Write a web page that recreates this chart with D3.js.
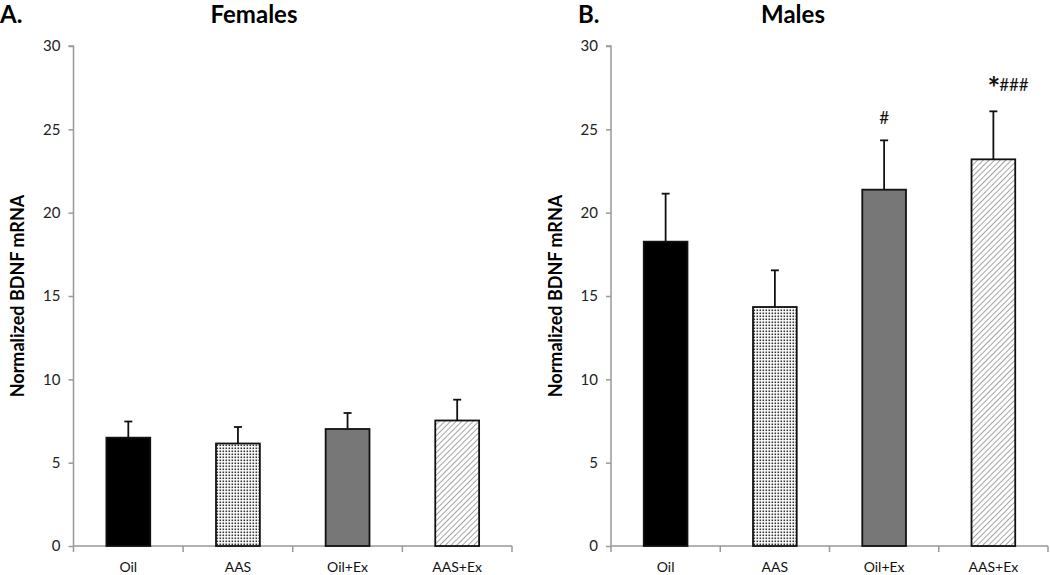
<!DOCTYPE html>
<html><head><meta charset="utf-8">
<script src="https://cdn.jsdelivr.net/npm/d3@7"></script>
<style>body{margin:0;background:#fff}svg{display:block}text{font-family:Lato,"Open Sans",sans-serif}</style>
</head><body>
<svg id="c" width="1050" height="575"></svg>
<script>
const categories = ["Oil","AAS","Oil+Ex","AAS+Ex"];
const femaleMeans = [6.5, 6.15, 7.02, 7.53];
const femaleErr = [0.97, 0.99, 0.96, 1.25];
const maleMeans = [18.26, 14.34, 21.38, 23.2];
const maleErr = [2.88, 2.2, 2.96, 2.88];
const maleMarks = ["", "", "#", "###"];
const maleStars = ["", "", "", "*"];
const yTicks = [0,5,10,15,20,25,30];
const panelTitles = ["Females","Males"];
const panelLetters = ["A.","B."];
const yLabel = "Normalized BDNF mRNA";

const svg = d3.select("#c");
const defs = svg.append("defs");
const dots = defs.append("pattern").attr("id","dots").attr("patternUnits","userSpaceOnUse").attr("width",3).attr("height",3);
dots.append("rect").attr("width",3).attr("height",3).attr("fill","#fff");
dots.append("rect").attr("x",0.5).attr("y",0.5).attr("width",1.6).attr("height",1.6).attr("fill","#333");
const hatch = defs.append("pattern").attr("id","hatch").attr("patternUnits","userSpaceOnUse").attr("width",4).attr("height",4).attr("patternTransform","rotate(45)");
hatch.append("rect").attr("width",4).attr("height",4).attr("fill","#fff");
hatch.append("line").attr("x1",0).attr("y1",0).attr("x2",0).attr("y2",4).attr("stroke","#666").attr("stroke-width",1.2);
const fills = ["#000","url(#dots)","#777","url(#hatch)"];

const panels = [
  {x0:73.5, x1:512, means:femaleMeans, errs:femaleErr, marks:null, stars:null, titleX:254, letterX:0, labelX:18},
  {x0:611, x1:1048, means:maleMeans, errs:maleErr, marks:maleMarks, stars:maleStars, titleX:793, letterX:578, labelX:556}
];
const y = d3.scaleLinear().domain([0,30]).range([546,46]);

panels.forEach((p,pi)=>{
  const g = svg.append("g");
  const x = d3.scaleBand().domain(categories).range([p.x0,p.x1]).paddingInner(0).paddingOuter(0);
  const bw = x.bandwidth()*0.4;
  // y axis
  const ya = g.append("g").attr("transform",`translate(${p.x0},0)`).call(d3.axisLeft(y).tickValues(yTicks).tickSize(5).tickPadding(8));
  ya.select(".domain").attr("stroke","#999").attr("stroke-width",1.5).attr("d",`M-5,${y(30)}H0V${y(0)}`);
  ya.selectAll(".tick line").attr("stroke","#999").attr("stroke-width",1.5);
  ya.selectAll(".tick text").attr("font-size",15).attr("fill","#222").attr("font-family","Lato,'Open Sans',sans-serif");
  // x axis
  const xa = g.append("g").attr("transform",`translate(0,${y(0)})`);
  xa.append("line").attr("x1",p.x0).attr("x2",p.x1).attr("stroke","#999").attr("stroke-width",1.5);
  const bounds = categories.map(c=>x(c)).concat([p.x1]);
  xa.selectAll(".xt").data(bounds).join("line").attr("x1",d=>d).attr("x2",d=>d).attr("y1",0).attr("y2",6).attr("stroke","#999").attr("stroke-width",1.5);
  xa.selectAll(".xl").data(categories).join("text").attr("x",d=>x(d)+x.bandwidth()/2).attr("y",26).attr("text-anchor","middle").attr("font-size",14).attr("fill","#111").text(d=>d);
  // bars
  categories.forEach((c,i)=>{
    const cx = x(c)+x.bandwidth()/2;
    const top = y(p.means[i]);
    const cap = y(p.means[i]+p.errs[i]);
    g.append("line").attr("x1",cx).attr("x2",cx).attr("y1",top).attr("y2",cap).attr("stroke","#111").attr("stroke-width",1.8);
    g.append("line").attr("x1",cx-4).attr("x2",cx+4).attr("y1",cap).attr("y2",cap).attr("stroke","#111").attr("stroke-width",1.8);
    g.append("rect").attr("x",cx-bw/2).attr("y",top).attr("width",bw).attr("height",y(0)-top).attr("fill",fills[i]).attr("stroke","#111").attr("stroke-width",1.8);
    if (p.marks && (p.marks[i]||p.stars[i])) {
      const t = g.append("text").attr("font-size",17).attr("fill","#111");
      if (p.stars[i]) {
        t.attr("x",cx-6).attr("y",cap-20).attr("text-anchor","start");
        t.append("tspan").attr("font-size",30).attr("font-weight","bold").attr("dy",8).text(p.stars[i]);
        t.append("tspan").attr("dy",-8).attr("dx",-1).text(p.marks[i]);
      } else {
        t.attr("x",cx).attr("y",cap-16).attr("text-anchor","middle").text(p.marks[i]);
      }
    }
  });
  // titles
  svg.append("text").attr("x",p.letterX).attr("y",23).attr("font-size",24).attr("font-weight","bold").attr("fill","#000").text(panelLetters[pi]);
  svg.append("text").attr("x",p.titleX).attr("y",23).attr("text-anchor","middle").attr("font-size",24).attr("font-weight","bold").attr("fill","#000").text(panelTitles[pi]);
  svg.append("text").attr("transform",`translate(${p.labelX},${296}) rotate(-90)`).attr("text-anchor","middle").attr("dy","0.35em").attr("font-size",18).attr("font-weight","bold").attr("fill","#000").text(yLabel);
});
</script>
</body></html>
